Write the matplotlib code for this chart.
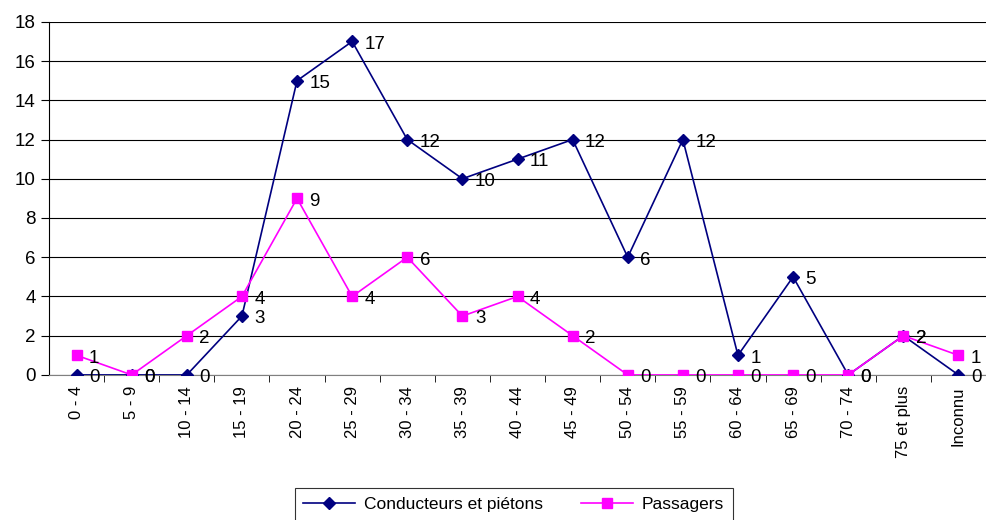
import matplotlib.pyplot as plt

age_groups = ['0 - 4', '5 - 9', '10 - 14', '15 - 19', '20 - 24', '25 - 29', '30 - 34',
              '35 - 39', '40 - 44', '45 - 49', '50 - 54', '55 - 59', '60 - 64',
              '65 - 69', '70 - 74', '75 et plus', 'Inconnu']
conducteurs = [0, 0, 0, 3, 15, 17, 12, 10, 11, 12, 6, 12, 1, 5, 0, 2, 0]
passagers = [1, 0, 2, 4, 9, 4, 6, 3, 4, 2, 0, 0, 0, 0, 0, 2, 1]

plt.rcParams['font.family'] = ['Liberation Sans', 'DejaVu Sans']

fig = plt.figure(figsize=(9.86, 5.2), dpi=100)
ax = fig.add_axes([0.0497, 0.279, 0.9503, 0.679])

x = list(range(len(age_groups)))
ax.plot(x, conducteurs, color='#000080', lw=1.2, marker='D', ms=6,
        label='Conducteurs et piétons', zorder=3)
ax.plot(x, passagers, color='#FF00FF', lw=1.2, marker='s', ms=7,
        label='Passagers', zorder=4)

# value labels to the right of each point
for xi, v in zip(x, conducteurs):
    ax.annotate(str(v), (xi, v), xytext=(9, -2), textcoords='offset points',
                ha='left', va='center', fontsize=13.5, zorder=5)
for xi, v in zip(x, passagers):
    ax.annotate(str(v), (xi, v), xytext=(9, -2), textcoords='offset points',
                ha='left', va='center', fontsize=13.5, zorder=5)

ax.set_xlim(-0.5, len(age_groups) - 0.5)
ax.set_ylim(0, 18)
ax.set_yticks(range(0, 19, 2))
ax.yaxis.grid(True, color='black', lw=0.8)
ax.set_axisbelow(True)

ax.set_xticks(x)
ax.set_xticklabels(age_groups, rotation=90, fontsize=12)
ax.tick_params(axis='x', length=0, pad=8)
ax.set_xticks([i + 0.5 for i in x], minor=True)
ax.tick_params(axis='x', which='minor', length=5, direction='out')
ax.tick_params(axis='y', labelsize=13.5, length=6, direction='out')

for side in ('top', 'right'):
    ax.spines[side].set_visible(False)
ax.spines['bottom'].set_color('#808080')
ax.spines['left'].set_color('black')

leg = fig.legend(loc='lower center', bbox_to_anchor=(0.521, -0.018), ncol=2,
                 fontsize=12.5, frameon=True, fancybox=False, edgecolor='black',
                 columnspacing=2.2, handlelength=3.0, handletextpad=0.5,
                 borderpad=0.5)
leg.get_frame().set_linewidth(0.8)

fig.savefig('out.png', dpi=100)
